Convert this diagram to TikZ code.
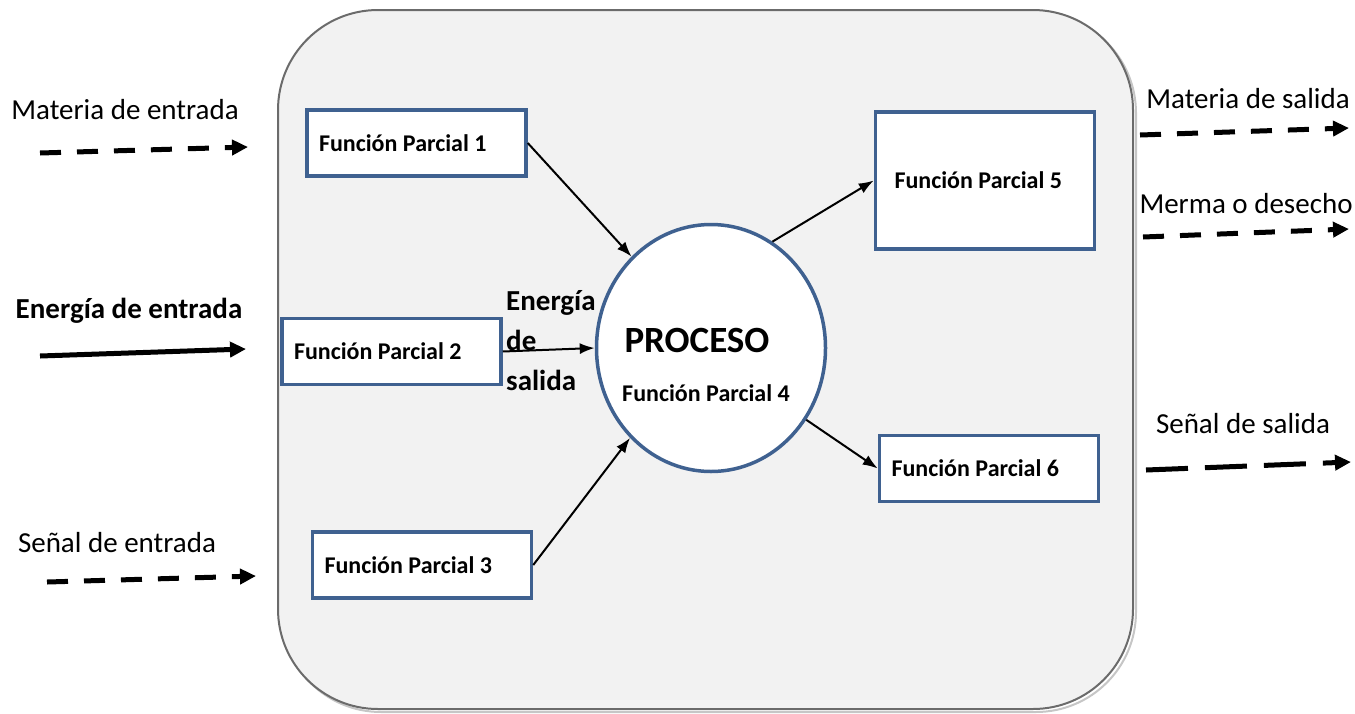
\documentclass[tikz,border=0pt]{standalone}
\usepackage{fontspec}
\setmainfont{Carlito}
\usetikzlibrary{arrows.meta,shapes.geometric}
\definecolor{fpblue}{HTML}{3F6190}
\definecolor{sysfill}{HTML}{F2F2F2}
\definecolor{sysline}{HTML}{6B6B6B}

\begin{document}
\begin{tikzpicture}[>=Latex,x=1pt,y=-1pt,
  fp/.style={draw=fpblue,line width=3.5pt,fill=white,minimum height=66pt,inner xsep=12pt,
    text width=195pt,align=flush left,font=\fontsize{24}{28}\bfseries\selectfont},
  flow/.style={line width=5pt,dash pattern=on 21pt off 16pt,-{Triangle[length=16pt,width=15pt]}},
  link/.style={line width=2pt,-{Latex[length=15pt,width=11pt]}},
  lbl/.style={font=\fontsize{29}{35}\selectfont}]
\useasboundingbox (0,0) rectangle (1355,713);
% system boundary with its shadow
\draw[gray!45,line width=2pt,rounded corners=100pt] (281,13) rectangle (1136,712);
\draw[sysline,fill=sysfill,line width=2pt,rounded corners=100pt] (278,10) rectangle (1133,709);
% partial functions
\node[fp] (fp1) at (416.5,143) {Función Parcial 1};
\node[fp] (fp2) at (391.5,351.5) {Función Parcial 2};
\node[fp] (fp3) at (422,565) {Función Parcial 3};
\node[fp,minimum height=137pt,inner xsep=19pt,text width=181pt] (fp5) at (985,180.5) {Función Parcial 5};
\node[fp] (fp6) at (989,468.5) {Función Parcial 6};
\node[ellipse,draw=fpblue,line width=3.5pt,fill=white,minimum width=229pt,minimum height=247pt,inner sep=0pt] (proc) at (711,348) {};
\node[font=\fontsize{37}{40}\bfseries\selectfont] (proct) at (697,340) {PROCESO};
\node[font=\fontsize{24}{28}\bfseries\selectfont] (fp4) at (706,393) {Función Parcial 4};
\draw[link] (fp1.east) -- (proc.131); \draw[link] (fp2.east) -- (proc.west);
\draw[link] (fp3.east) -- (proc.228);
\draw[link] (proc.60) -- (fp5.west); \draw[link] (proc.-37) -- (fp6.west);
\node[anchor=west,align=left,inner sep=0pt,font=\fontsize{29}{40}\bfseries\selectfont] (esal) at (506,341) {Energía\\de\\salida};
% inputs and outputs
\node[lbl] (matin) at (125,110) {Materia de entrada};
\node[lbl,font=\fontsize{29}{35}\bfseries\selectfont] (enin) at (129,311) {Energía de entrada};
\node[lbl] (senin) at (117,543) {Señal de entrada};
\node[lbl] (matout) at (1248,99) {Materia de salida};
\node[lbl] (merma) at (1246,204) {Merma o desecho};
\node[lbl] (senout) at (1243,424) {Señal de salida};
\foreach \n/\xa/\ya/\xb/\yb in {mi/40/153/248/147, si/47/582/256/576, mo/1140/135/1349/128, mw/1143/237/1349/229}{
  \coordinate (\n a) at (\xa,\ya); \coordinate (\n b) at (\xb,\yb);
  \draw[flow] (\n a) -- (\n b);}
\coordinate (soa) at (1146,470); \coordinate (sob) at (1351,462);
\draw[flow,dash pattern=on 42pt off 17pt] (soa) -- (sob);
\coordinate (eia) at (40,356); \coordinate (eib) at (246,349);
\draw[line width=5pt,-{Triangle[length=16pt,width=15pt]}] (eia) -- (eib);
\end{tikzpicture}
\end{document}
